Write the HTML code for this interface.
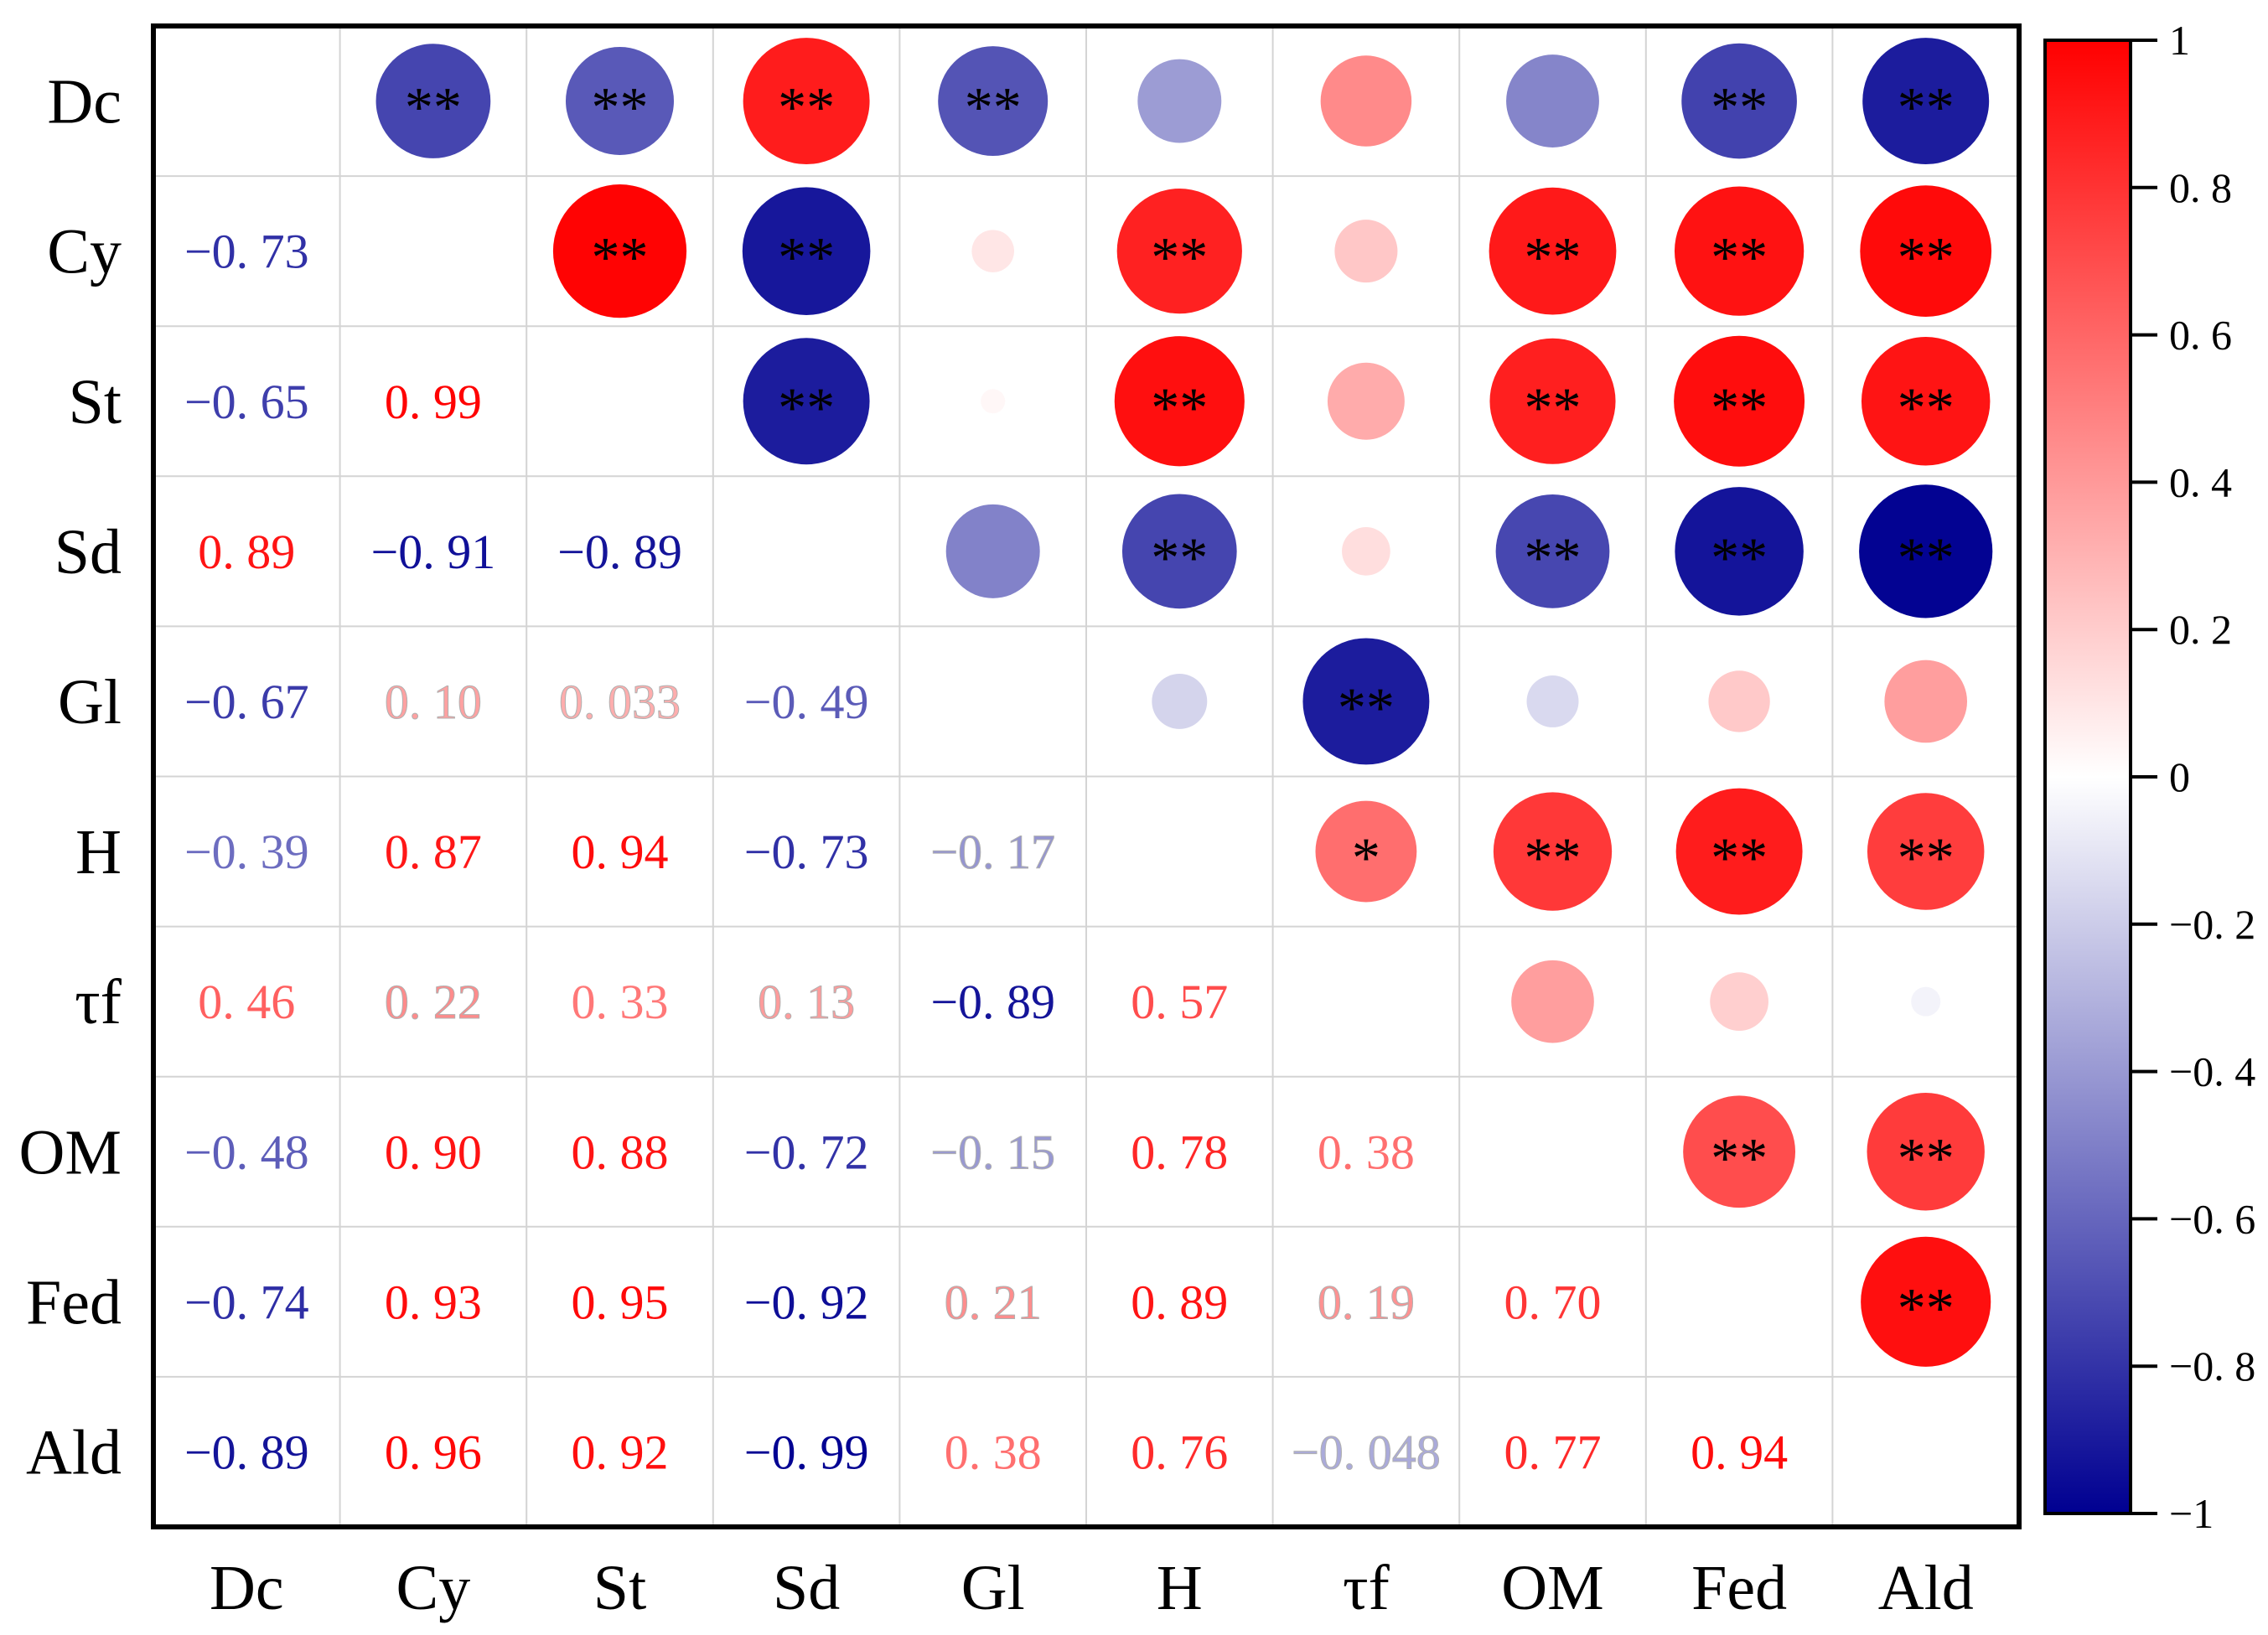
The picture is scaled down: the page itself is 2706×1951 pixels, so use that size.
<!DOCTYPE html>
<html><head><meta charset="utf-8"><style>
html,body{margin:0;padding:0;background:#fff;}
svg{display:block;}
text{font-family:"Liberation Serif","Noto Serif CJK SC",serif;}
</style></head><body>
<svg id="chart" width="2706" height="1951" viewBox="0 0 2706 1951" xmlns="http://www.w3.org/2000/svg">
<defs>
<linearGradient id="cbar" x1="0" y1="1" x2="0" y2="0">
<stop offset="0" stop-color="rgb(0,0,145)"/>
<stop offset="0.5" stop-color="#ffffff"/>
<stop offset="1" stop-color="rgb(255,0,0)"/>
</linearGradient>
</defs>
</svg>
<script>
const variables = ["Dc","Cy","St","Sd","Gl","H","τf","OM","Fed","Ald"];
const corrRows = [
  [],
  [-0.73],
  [-0.65,0.99],
  [0.89,-0.91,-0.89],
  [-0.67,0.10,0.033,-0.49],
  [-0.39,0.87,0.94,-0.73,-0.17],
  [0.46,0.22,0.33,0.13,-0.89,0.57],
  [-0.48,0.90,0.88,-0.72,-0.15,0.78,0.38],
  [-0.74,0.93,0.95,-0.92,0.21,0.89,0.19,0.70],
  [-0.89,0.96,0.92,-0.99,0.38,0.76,-0.048,0.77,0.94]
];
const corrLabels = [
  [],
  ["−0. 73"],
  ["−0. 65","0. 99"],
  ["0. 89","−0. 91","−0. 89"],
  ["−0. 67","0. 10","0. 033","−0. 49"],
  ["−0. 39","0. 87","0. 94","−0. 73","−0. 17"],
  ["0. 46","0. 22","0. 33","0. 13","−0. 89","0. 57"],
  ["−0. 48","0. 90","0. 88","−0. 72","−0. 15","0. 78","0. 38"],
  ["−0. 74","0. 93","0. 95","−0. 92","0. 21","0. 89","0. 19","0. 70"],
  ["−0. 89","0. 96","0. 92","−0. 99","0. 38","0. 76","−0. 048","0. 77","0. 94"]
];
const sigRows = [
  ["","**","**","**","**","","","","**","**"],
  ["","","**","**","","**","","**","**","**"],
  ["","","","**","","**","","**","**","**"],
  ["","","","","","**","","**","**","**"],
  ["","","","","","","**","","",""],
  ["","","","","","","*","**","**","**"],
  ["","","","","","","","","",""],
  ["","","","","","","","","**","**"],
  ["","","","","","","","","","**"],
  ["","","","","","","","","",""]
];
const cbTicks = [1,0.8,0.6,0.4,0.2,0,-0.2,-0.4,-0.6,-0.8,-1];
const cbTickLabels = ["1","0. 8","0. 6","0. 4","0. 2","0","−0. 2","−0. 4","−0. 6","−0. 8","−1"];

const NS="http://www.w3.org/2000/svg";
const svg=document.getElementById('chart');
const L=183,T=31,R=2409,B=1822,n=variables.length;
const cw=(R-L)/n, ch=(B-T)/n;
const xc=j=>L+cw*(j+0.5), yc=i=>T+ch*(i+0.5);
const cbTop=48, cbBot=1806, cbL=2440, cbR=2542;
const cbY=v=>cbTop+(1-v)/2*(cbBot-cbTop);
const rMax=80;
function colorT(v,t){
  if(v>=0){const g=Math.round(255*(1-t));return `rgb(255,${g},${g})`;}
  const g=Math.round(255*(1-t));const b=Math.round(145+110*(1-t));return `rgb(${g},${g},${b})`;
}
function color(v){return colorT(v,Math.min(1,Math.abs(v)));}
function textColor(v){return colorT(v,0.3+0.7*Math.min(1,Math.abs(v)));}
function mk(tag,attrs,parent){const e=document.createElementNS(NS,tag);for(const k in attrs)e.setAttribute(k,attrs[k]);(parent||svg).appendChild(e);return e;}
function corr(i,j){return i>j?corrRows[i][j]:corrRows[j][i];}

const bg=mk('rect',{x:L,y:T,width:R-L,height:B-T,fill:'#fff'});


for(let k=1;k<n;k++){
  const v=mk('line',{x1:L+cw*k,x2:L+cw*k,y1:T,y2:B,stroke:'#d4d4d4','stroke-width':2});
  
  
  const h=mk('line',{x1:L,x2:R,y1:T+ch*k,y2:T+ch*k,stroke:'#d4d4d4','stroke-width':2});
  
  
}
for(let i=0;i<n;i++){
  for(let j=0;j<n;j++){
    if(i>j){
      const v=corr(i,j);
      const attrs={x:xc(j),y:yc(i)+20,'text-anchor':'middle','font-size':58,fill:textColor(v)};
      if(Math.abs(v)<0.3){attrs.stroke='#b0b0b0';attrs['stroke-width']=1;}
      const t=mk('text',attrs);
      t.textContent=corrLabels[i][j];
      
      
    } else if(j>i){
      const v=corr(i,j);
      const c=mk('circle',{cx:xc(j),cy:yc(i),r:rMax*Math.sqrt(Math.abs(v)),fill:color(v)});
      
      
      if(sigRows[i][j]){
        const s=mk('text',{x:xc(j),y:yc(i)+30,'text-anchor':'middle','font-size':68,fill:'#000'});
        s.textContent=sigRows[i][j];
        
        
      }
    }
  }
}
const fr=mk('rect',{x:L,y:T,width:R-L,height:B-T,fill:'none',stroke:'#000','stroke-width':6});


variables.forEach((name,i)=>{
  const t=mk('text',{x:145,y:yc(i)+26,'text-anchor':'end','font-size':76,fill:'#000'});
  t.textContent=name;
  
  
  const c=mk('text',{x:xc(i),y:1920,'text-anchor':'middle','font-size':76,fill:'#000'});
  c.textContent=name;
  
  
});
const cb=mk('rect',{x:cbL,y:cbTop,width:cbR-cbL,height:cbBot-cbTop,fill:'url(#cbar)',stroke:'#000','stroke-width':4});


cbTicks.forEach((v,k)=>{
  const y=cbY(v);
  const l=mk('line',{x1:cbR,x2:cbR+32,y1:y,y2:y,stroke:'#000','stroke-width':4});
  
  
  const t=mk('text',{x:2588,y:y+17,'font-size':50,fill:'#000'});
  t.textContent=cbTickLabels[k];
  
  
});
</script>
</body></html>
